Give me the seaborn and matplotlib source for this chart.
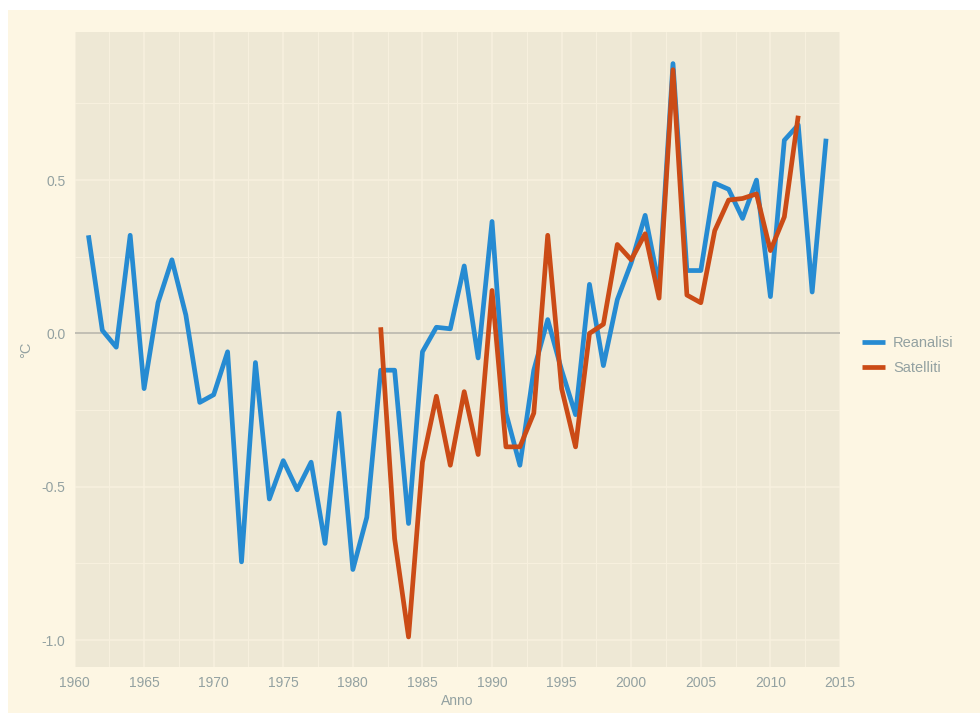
import numpy as np
import pandas as pd
import matplotlib
matplotlib.use("Agg")
import matplotlib.pyplot as plt
import matplotlib.patches as mpatches
from matplotlib.ticker import MultipleLocator, FixedLocator, FuncFormatter
import seaborn as sns

# Anomalie di temperatura (°C)
anni_rean = list(range(1961, 2015))
reanalisi = [0.32, 0.01, -0.045, 0.32, -0.18, 0.10, 0.24, 0.06, -0.225, -0.20,
             -0.06, -0.745, -0.095, -0.54, -0.415, -0.51, -0.42, -0.685, -0.26, -0.77,
             -0.60, -0.12, -0.12, -0.62, -0.06, 0.02, 0.015, 0.22, -0.08, 0.365,
             -0.26, -0.43, -0.12, 0.045, -0.12, -0.265, 0.16, -0.105, 0.11, 0.23,
             0.385, 0.155, 0.88, 0.205, 0.205, 0.49, 0.47, 0.375, 0.50, 0.12,
             0.63, 0.68, 0.135, 0.635]

anni_sat = list(range(1982, 2013))
satelliti = [0.02, -0.67, -0.99, -0.42, -0.205, -0.43, -0.19, -0.395, 0.14, -0.37,
             -0.37, -0.26, 0.32, -0.18, -0.37, 0.0, 0.03, 0.29, 0.24, 0.325,
             0.115, 0.86, 0.125, 0.10, 0.335, 0.435, 0.44, 0.455, 0.27, 0.38,
             0.71]

serie = ["Reanalisi", "Satelliti"]
colori = {"Reanalisi": "#268BD2", "Satelliti": "#CB4B16"}

df = pd.concat([
    pd.DataFrame({"anno": anni_rean, "valore": reanalisi, "serie": "Reanalisi"}),
    pd.DataFrame({"anno": anni_sat, "valore": satelliti, "serie": "Satelliti"}),
], ignore_index=True)

BG = "#FDF6E3"
PANEL = "#EEE8D5"
GRID = "#F8F1DF"
TXT = "#93A1A1"

sns.set_style("white")
plt.rcParams['font.family'] = ['Liberation Sans', 'DejaVu Sans']
plt.rcParams['axes.unicode_minus'] = False

fig = plt.figure(figsize=(9.8, 7.13), dpi=100, facecolor="white")
# cream background with thin white strip on left/top
fig.patches.append(mpatches.Rectangle((8 / 980, 0), 1, 703 / 713, transform=fig.transFigure,
                                      facecolor=BG, edgecolor="none", zorder=-10))
ax = fig.add_axes([74.5 / 980, 46 / 713, (840 - 74.5) / 980, (667 - 32) / 713])
ax.set_facecolor(PANEL)

ax.axhline(0, color="#BDBAB0", lw=1.3, zorder=1.5)

sns.lineplot(data=df, x="anno", y="valore", hue="serie", hue_order=serie,
             palette=colori, linewidth=3.4, ax=ax, zorder=3,
             solid_joinstyle="round", solid_capstyle="butt")

ax.set_xlim(1960, 2015)
ax.set_ylim(-1.088, 0.983)

ax.xaxis.set_major_locator(MultipleLocator(5))
ax.xaxis.set_minor_locator(FixedLocator(np.arange(1962.5, 2015, 5)))
ax.yaxis.set_major_locator(FixedLocator([-1.0, -0.5, 0.0, 0.5]))
ax.yaxis.set_minor_locator(FixedLocator([-0.75, -0.25, 0.25, 0.75]))
ax.yaxis.set_major_formatter(FuncFormatter(lambda v, p: f"{v:.1f}"))

ax.grid(which="major", color=GRID, lw=1.1, zorder=0)
ax.grid(which="minor", color=GRID, lw=0.7, zorder=0)
ax.set_axisbelow(True)
for s in ax.spines.values():
    s.set_visible(False)

ax.tick_params(which="major", length=4, width=0.9, color=TXT, labelcolor=TXT,
               labelsize=10, pad=2.5)
ax.tick_params(which="minor", length=0)

ax.set_xlabel("Anno", color=TXT, fontsize=10, labelpad=3)
ax.set_ylabel("°C", color=TXT, fontsize=10.5, labelpad=6)

handles, labels = ax.get_legend_handles_labels()
ax.legend(handles=handles, labels=labels, loc="center left",
          bbox_to_anchor=(1.012, 0.49), frameon=False, fontsize=10.5,
          labelcolor=TXT, handlelength=1.55, handletextpad=0.55, labelspacing=0.75)

fig.savefig("out.png", dpi=100, facecolor=fig.get_facecolor())
